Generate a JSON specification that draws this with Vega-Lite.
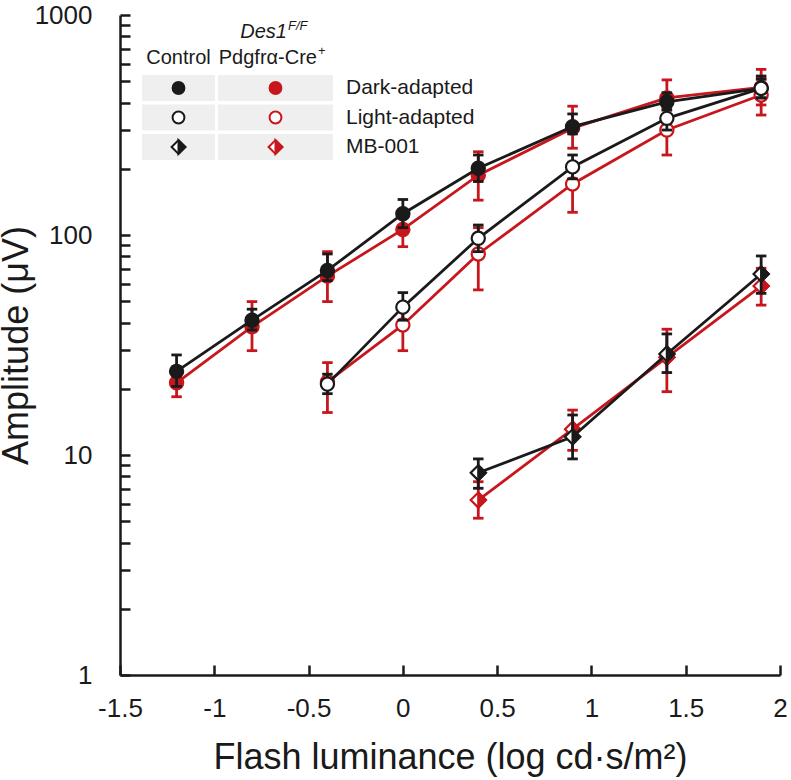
{
  "$schema": "https://vega.github.io/schema/vega-lite/v6.json",
  "width": 660,
  "height": 660,
  "autosize": {"type": "none"},
  "padding": {"left": 120, "top": 15, "right": 11, "bottom": 105},
  "config": {"view": {"stroke": null}, "font": "Liberation Sans", "text": {"color": "#1a1a1a"}},
  "datasets": {
    "erg": [
      {"x": -1.2, "group": "Control", "cond": "Dark", "mean": 24, "lo": 20.5, "hi": 28.5},
      {"x": -0.8, "group": "Control", "cond": "Dark", "mean": 41, "lo": 37, "hi": 46},
      {"x": -0.4, "group": "Control", "cond": "Dark", "mean": 69, "lo": 62, "hi": 82},
      {"x": 0, "group": "Control", "cond": "Dark", "mean": 125, "lo": 108, "hi": 145},
      {"x": 0.4, "group": "Control", "cond": "Dark", "mean": 201, "lo": 175, "hi": 231},
      {"x": 0.9, "group": "Control", "cond": "Dark", "mean": 311, "lo": 288, "hi": 355},
      {"x": 1.4, "group": "Control", "cond": "Dark", "mean": 403, "lo": 370, "hi": 443},
      {"x": 1.9, "group": "Control", "cond": "Dark", "mean": 464, "lo": 420, "hi": 528},
      {"x": -1.2, "group": "Des1", "cond": "Dark", "mean": 21.3, "lo": 18.4, "hi": 25.2},
      {"x": -0.8, "group": "Des1", "cond": "Dark", "mean": 38.3, "lo": 29.8, "hi": 49.8},
      {"x": -0.4, "group": "Des1", "cond": "Dark", "mean": 65, "lo": 49.8, "hi": 84},
      {"x": 0, "group": "Des1", "cond": "Dark", "mean": 106, "lo": 88.5, "hi": 125},
      {"x": 0.4, "group": "Des1", "cond": "Dark", "mean": 187, "lo": 144, "hi": 239},
      {"x": 0.9, "group": "Des1", "cond": "Dark", "mean": 306, "lo": 248, "hi": 385},
      {"x": 1.4, "group": "Des1", "cond": "Dark", "mean": 420, "lo": 340, "hi": 507},
      {"x": 1.9, "group": "Des1", "cond": "Dark", "mean": 469, "lo": 390, "hi": 566},
      {"x": -0.4, "group": "Control", "cond": "Light", "mean": 21, "lo": 19, "hi": 23.3},
      {"x": 0, "group": "Control", "cond": "Light", "mean": 47, "lo": 41, "hi": 54.7},
      {"x": 0.4, "group": "Control", "cond": "Light", "mean": 96.6, "lo": 84, "hi": 111},
      {"x": 0.9, "group": "Control", "cond": "Light", "mean": 204, "lo": 180, "hi": 231},
      {"x": 1.4, "group": "Control", "cond": "Light", "mean": 339, "lo": 300, "hi": 380},
      {"x": 1.9, "group": "Control", "cond": "Light", "mean": 464, "lo": 420, "hi": 510},
      {"x": -0.4, "group": "Des1", "cond": "Light", "mean": 21.5, "lo": 15.6, "hi": 26.3},
      {"x": 0, "group": "Des1", "cond": "Light", "mean": 39, "lo": 29.8, "hi": 48},
      {"x": 0.4, "group": "Des1", "cond": "Light", "mean": 82, "lo": 56.3, "hi": 108},
      {"x": 0.9, "group": "Des1", "cond": "Light", "mean": 170.6, "lo": 126.8, "hi": 214},
      {"x": 1.4, "group": "Des1", "cond": "Light", "mean": 300, "lo": 231, "hi": 370},
      {"x": 1.9, "group": "Des1", "cond": "Light", "mean": 433, "lo": 351, "hi": 515},
      {"x": 0.4, "group": "Control", "cond": "MB", "mean": 8.3, "lo": 7.06, "hi": 9.6},
      {"x": 0.9, "group": "Control", "cond": "MB", "mean": 12.1, "lo": 9.6, "hi": 15.2},
      {"x": 1.4, "group": "Control", "cond": "MB", "mean": 28.8, "lo": 23.7, "hi": 35.5},
      {"x": 1.9, "group": "Control", "cond": "MB", "mean": 66.5, "lo": 54.3, "hi": 80.3},
      {"x": 0.4, "group": "Des1", "cond": "MB", "mean": 6.24, "lo": 5.16, "hi": 7.56},
      {"x": 0.9, "group": "Des1", "cond": "MB", "mean": 13.1, "lo": 10.5, "hi": 16},
      {"x": 1.4, "group": "Des1", "cond": "MB", "mean": 27.8, "lo": 19.4, "hi": 37.3},
      {"x": 1.9, "group": "Des1", "cond": "MB", "mean": 58.6, "lo": 48, "hi": 70.6}
    ],
    "legend": [
      {"group": "Control", "cond": "Dark"},
      {"group": "Control", "cond": "Light"},
      {"group": "Control", "cond": "MB"},
      {"group": "Des1", "cond": "Dark"},
      {"group": "Des1", "cond": "Light"},
      {"group": "Des1", "cond": "MB"}
    ]
  },
  "layer": [
    {
      "data": {"name": "erg"},
      "encoding": {
        "x": {
          "field": "x", "type": "quantitative",
          "scale": {"domain": [-1.5, 2], "nice": false, "zero": false},
          "axis": {
            "title": "Flash luminance (log cd·s/m²)",
            "values": [-1.5, -1, -0.5, 0, 0.5, 1, 1.5, 2],
            "labelExpr": "datum.value + ''",
            "labelFontSize": 26, "titleFontSize": 36, "titleFontWeight": "normal",
            "labelColor": "#1a1a1a", "titleColor": "#1a1a1a",
            "tickSize": -10, "tickWidth": 2.5, "tickColor": "#1a1a1a",
            "domainWidth": 2.5, "domainColor": "#1a1a1a",
            "labelPadding": 30, "titlePadding": 19,
            "labelFlush": false, "labelOverlap": false, "grid": false
          }
        },
        "y": {
          "field": "mean", "type": "quantitative",
          "scale": {"type": "log", "domain": [1, 1000], "nice": false},
          "axis": {
            "title": "Amplitude (μV)",
            "values": [1, 2, 3, 4, 5, 6, 7, 8, 9, 10, 20, 30, 40, 50, 60, 70, 80, 90, 100, 200, 300, 400, 500, 600, 700, 800, 900, 1000],
            "labelExpr": "indexof([1, 10, 100, 1000], datum.value) >= 0 ? datum.value + '' : ''",
            "labelFontSize": 26, "titleFontSize": 36, "titleFontWeight": "normal",
            "labelColor": "#1a1a1a", "titleColor": "#1a1a1a",
            "tickSize": -10, "tickWidth": 2.5, "tickColor": "#1a1a1a",
            "domainWidth": 2.5, "domainColor": "#1a1a1a",
            "labelPadding": 38, "titlePadding": -1,
            "labelFlush": false, "labelOverlap": false, "grid": false
          }
        }
      },
      "layer": [
        {
          "transform": [{"filter": "datum.group == 'Des1'"}],
          "layer": [
            {"mark": {"type": "rule", "stroke": "#c8161d", "strokeWidth": 2.8},
             "encoding": {"y": {"field": "lo", "type": "quantitative"}, "y2": {"field": "hi"}}},
            {"transform": [{"fold": ["lo", "hi"], "as": ["k", "v"]}],
             "mark": {"type": "point", "shape": "stroke", "size": 110, "stroke": "#c8161d", "strokeWidth": 2.8, "filled": false, "opacity": 1},
             "encoding": {"y": {"field": "v", "type": "quantitative"}}},
            {"mark": {"type": "line", "stroke": "#c8161d", "strokeWidth": 2.8},
             "encoding": {"detail": {"field": "cond"}}},
            {"transform": [{"filter": "datum.cond != 'MB'"}],
             "mark": {"type": "point", "shape": "circle", "size": 175, "stroke": "#c8161d", "strokeWidth": 2.2, "filled": true, "opacity": 1},
             "encoding": {"fill": {"condition": {"test": "datum.cond == 'Dark'", "value": "#c8161d"}, "value": "white"}}},
            {"transform": [{"filter": "datum.cond == 'MB'"}],
             "mark": {"type": "point", "shape": "diamond", "size": 230, "fill": "white", "stroke": "#c8161d", "strokeWidth": 2.2, "filled": true, "opacity": 1}},
            {"transform": [{"filter": "datum.cond == 'MB'"}],
             "mark": {"type": "point", "shape": "M0,-1L1,0L0,1Z", "size": 230, "fill": "#c8161d", "stroke": "#c8161d", "strokeWidth": 2.2, "filled": true, "opacity": 1}}
          ]
        },
        {
          "transform": [{"filter": "datum.group == 'Control'"}],
          "layer": [
            {"mark": {"type": "rule", "stroke": "#1a1a1a", "strokeWidth": 2.8},
             "encoding": {"y": {"field": "lo", "type": "quantitative"}, "y2": {"field": "hi"}}},
            {"transform": [{"fold": ["lo", "hi"], "as": ["k", "v"]}],
             "mark": {"type": "point", "shape": "stroke", "size": 110, "stroke": "#1a1a1a", "strokeWidth": 2.8, "filled": false, "opacity": 1},
             "encoding": {"y": {"field": "v", "type": "quantitative"}}},
            {"mark": {"type": "line", "stroke": "#1a1a1a", "strokeWidth": 2.8},
             "encoding": {"detail": {"field": "cond"}}},
            {"transform": [{"filter": "datum.cond != 'MB'"}],
             "mark": {"type": "point", "shape": "circle", "size": 175, "stroke": "#1a1a1a", "strokeWidth": 2.2, "filled": true, "opacity": 1},
             "encoding": {"fill": {"condition": {"test": "datum.cond == 'Dark'", "value": "#1a1a1a"}, "value": "white"}}},
            {"transform": [{"filter": "datum.cond == 'MB'"}],
             "mark": {"type": "point", "shape": "diamond", "size": 230, "fill": "white", "stroke": "#1a1a1a", "strokeWidth": 2.2, "filled": true, "opacity": 1}},
            {"transform": [{"filter": "datum.cond == 'MB'"}],
             "mark": {"type": "point", "shape": "M0,-1L1,0L0,1Z", "size": 230, "fill": "#1a1a1a", "stroke": "#1a1a1a", "strokeWidth": 2.2, "filled": true, "opacity": 1}}
          ]
        }
      ]
    },
    {
      "data": {"name": "legend"},
      "encoding": {
        "x": {"field": "group", "type": "nominal", "scale": {"type": "point", "domain": ["Control", "Des1"], "range": [58.5, 155.5], "padding": 0}, "axis": null},
        "y": {"field": "cond", "type": "nominal", "scale": {"type": "point", "domain": ["Dark", "Light", "MB"], "range": [73, 132], "padding": 0}, "axis": null}
      },
      "layer": [
        {"transform": [{"filter": "datum.group == 'Control'"}],
         "mark": {"type": "point", "shape": "M-1,-0.356L1,-0.356L1,0.356L-1,0.356Z", "size": 5329, "fill": "#efefef", "filled": true, "strokeWidth": 0, "opacity": 1}},
        {"transform": [{"filter": "datum.group == 'Des1'"}],
         "mark": {"type": "point", "shape": "M-1,-0.226L1,-0.226L1,0.226L-1,0.226Z", "size": 13225, "fill": "#efefef", "filled": true, "strokeWidth": 0, "opacity": 1}},
        {"transform": [{"filter": "datum.cond != 'MB'"}],
         "mark": {"type": "point", "shape": "circle", "size": 140, "strokeWidth": 2, "filled": true, "opacity": 1},
         "encoding": {
           "stroke": {"field": "group", "type": "nominal", "scale": {"domain": ["Control", "Des1"], "range": ["#1a1a1a", "#c8161d"]}, "legend": null},
           "fill": {"condition": {"test": "datum.cond == 'Light'", "value": "white"}, "field": "group", "type": "nominal", "scale": {"domain": ["Control", "Des1"], "range": ["#1a1a1a", "#c8161d"]}, "legend": null}
         }},
        {"transform": [{"filter": "datum.cond == 'MB'"}],
         "mark": {"type": "point", "shape": "diamond", "size": 190, "fill": "white", "strokeWidth": 2, "filled": true, "opacity": 1},
         "encoding": {"stroke": {"field": "group", "type": "nominal", "scale": {"domain": ["Control", "Des1"], "range": ["#1a1a1a", "#c8161d"]}, "legend": null}}},
        {"transform": [{"filter": "datum.cond == 'MB'"}],
         "mark": {"type": "point", "shape": "M0,-1L1,0L0,1Z", "size": 190, "strokeWidth": 2, "filled": true, "opacity": 1},
         "encoding": {
           "stroke": {"field": "group", "type": "nominal", "scale": {"domain": ["Control", "Des1"], "range": ["#1a1a1a", "#c8161d"]}, "legend": null},
           "fill": {"field": "group", "type": "nominal", "scale": {"domain": ["Control", "Des1"], "range": ["#1a1a1a", "#c8161d"]}, "legend": null}
         }},
        {"data": {"values": [{"cond": "Dark", "label": "Dark-adapted"}, {"cond": "Light", "label": "Light-adapted"}, {"cond": "MB", "label": "MB-001"}]},
         "mark": {"type": "text", "align": "left", "baseline": "middle", "dx": 70.5, "fontSize": 21, "color": "#1a1a1a"},
         "encoding": {"x": {"datum": "Des1", "type": "nominal"}, "text": {"field": "label"}}},
        {"data": {"values": [{"t": "Control"}]},
         "mark": {"type": "text", "align": "center", "baseline": "alphabetic", "dy": -24, "fontSize": 20, "color": "#1a1a1a"},
         "encoding": {"x": {"datum": "Control", "type": "nominal"}, "y": {"datum": "Dark", "type": "nominal"}, "text": {"field": "t"}}},
        {"data": {"values": [{"t": "Pdgfrα-Cre"}]},
         "mark": {"type": "text", "align": "right", "baseline": "alphabetic", "dx": 41.5, "dy": -24, "fontSize": 20, "color": "#1a1a1a"},
         "encoding": {"x": {"datum": "Des1", "type": "nominal"}, "y": {"datum": "Dark", "type": "nominal"}, "text": {"field": "t"}}},
        {"data": {"values": [{"t": "+"}]},
         "mark": {"type": "text", "align": "left", "baseline": "alphabetic", "dx": 42.5, "dy": -33, "fontSize": 13, "color": "#1a1a1a"},
         "encoding": {"x": {"datum": "Des1", "type": "nominal"}, "y": {"datum": "Dark", "type": "nominal"}, "text": {"field": "t"}}},
        {"data": {"values": [{"t": "Des1"}]},
         "mark": {"type": "text", "align": "right", "baseline": "alphabetic", "dx": 11.5, "dy": -50, "fontSize": 20, "fontStyle": "italic", "color": "#1a1a1a"},
         "encoding": {"x": {"datum": "Des1", "type": "nominal"}, "y": {"datum": "Dark", "type": "nominal"}, "text": {"field": "t"}}},
        {"data": {"values": [{"t": "F/F"}]},
         "mark": {"type": "text", "align": "left", "baseline": "alphabetic", "dx": 12.5, "dy": -58, "fontSize": 13, "fontStyle": "italic", "color": "#1a1a1a"},
         "encoding": {"x": {"datum": "Des1", "type": "nominal"}, "y": {"datum": "Dark", "type": "nominal"}, "text": {"field": "t"}}}
      ]
    }
  ],
  "resolve": {"scale": {"x": "independent", "y": "independent"}}
}
